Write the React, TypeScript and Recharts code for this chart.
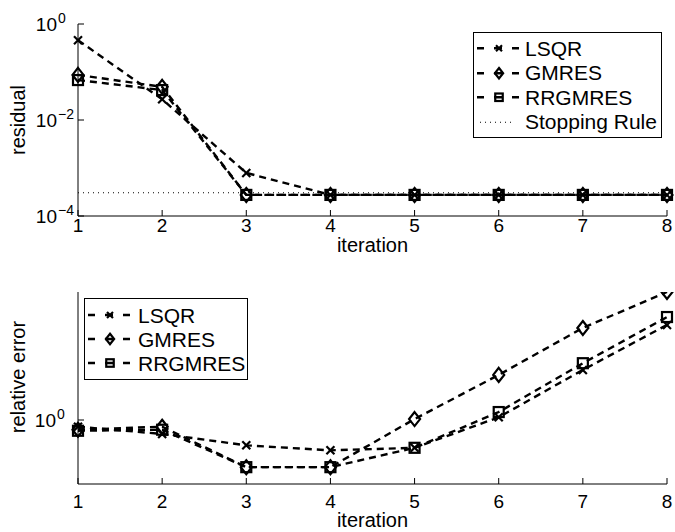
import React from 'react'
import { LineChart, Line, XAxis, YAxis, Legend } from 'recharts'

const iterations = [1, 2, 3, 4, 5, 6, 7, 8]
const iterationTicks = [1, 2, 3, 4, 5, 6, 7, 8]

// residual per iteration
const residualLsqr = [0.46, 0.027, 7.9e-4, 2.75e-4, 2.75e-4, 2.75e-4, 2.75e-4, 2.75e-4]
const residualGmres = [0.087, 0.049, 2.75e-4, 2.75e-4, 2.75e-4, 2.75e-4, 2.75e-4, 2.75e-4]
const residualRrgmres = [0.068, 0.042, 2.75e-4, 2.75e-4, 2.75e-4, 2.75e-4, 2.75e-4, 2.75e-4]
const stoppingRule = [3.05e-4, 3.05e-4, 3.05e-4, 3.05e-4, 3.05e-4, 3.05e-4, 3.05e-4, 3.05e-4]
const residualTicks = [1e-4, 1e-2, 1]

// relative error per iteration
const errorLsqr = [0.93, 0.86, 0.76, 0.72, 0.74, 1.03, 1.72, 2.8]
const errorGmres = [0.9, 0.93, 0.6, 0.6, 1.01, 1.63, 2.71, 4.0]
const errorRrgmres = [0.89, 0.9, 0.6, 0.6, 0.74, 1.09, 1.85, 3.05]
const errorTicks = [1]

const residualData = iterations.map((it, i) => ({
  iteration: it,
  lsqr: residualLsqr[i],
  gmres: residualGmres[i],
  rrgmres: residualRrgmres[i],
  stop: stoppingRule[i],
}))

const errorData = iterations.map((it, i) => ({
  iteration: it,
  lsqr: errorLsqr[i],
  gmres: errorGmres[i],
  rrgmres: errorRrgmres[i],
}))

const FONT = '"Liberation Sans", Arial, Helvetica, sans-serif'
const LINE_W = 2.4

type MarkerKind = 'x' | 'diamond' | 'square'

function Marker({ kind, cx, cy, s = 1 }: { kind: MarkerKind; cx: number; cy: number; s?: number }) {
  if (cx == null || cy == null) return null
  if (kind === 'x') {
    const h = 4 * s
    return (
      <g stroke="#000" strokeWidth={2.2}>
        <line x1={cx - h} y1={cy - h} x2={cx + h} y2={cy + h} />
        <line x1={cx - h} y1={cy + h} x2={cx + h} y2={cy - h} />
      </g>
    )
  }
  if (kind === 'diamond') {
    const w = 5.5 * s
    const h = 7 * s
    return (
      <polygon
        points={`${cx},${cy - h} ${cx + w},${cy} ${cx},${cy + h} ${cx - w},${cy}`}
        fill="none"
        stroke="#000"
        strokeWidth={2.2}
      />
    )
  }
  const h = 5 * s
  return <rect x={cx - h} y={cy - h} width={2 * h} height={2 * h} fill="none" stroke="#000" strokeWidth={2.2} />
}

const dotFor = (kind: MarkerKind) => (p: any) => <Marker key={`${kind}-${p.index}`} kind={kind} cx={p.cx} cy={p.cy} />

function PowerTick(props: any) {
  const { x, y, payload } = props
  const exp = Math.round(Math.log10(payload.value))
  const sup = exp < 0 ? `\u2212${-exp}` : `${exp}`
  return (
    <g>
      <text x={x} y={y + 7} textAnchor="end" fontSize={19} fill="#000">10</text>
      <text x={x + 1} y={y - 1} textAnchor="start" fontSize={14} fill="#000">{sup}</text>
    </g>
  )
}

interface LegendItem {
  name: string
  kind: MarkerKind | 'dotted'
}

function LegendBox({ items, width, rowHeight, padTop, padLeft, sampleWidth }: {
  items: LegendItem[]
  width: number
  rowHeight: number
  padTop: number
  padLeft: number
  sampleWidth: number
}) {
  return (
    <div
      style={{
        boxSizing: 'border-box',
        width,
        border: '1px solid #000',
        background: '#fff',
        paddingTop: padTop,
        paddingBottom: padTop,
        paddingLeft: padLeft,
        fontFamily: FONT,
        fontSize: 21,
        color: '#000',
      }}
    >
      {items.map((item) => (
        <div key={item.name} style={{ display: 'flex', alignItems: 'center', height: rowHeight, whiteSpace: 'nowrap' }}>
          <svg width={sampleWidth} height={rowHeight} style={{ display: 'block', flex: 'none' }}>
            {item.kind === 'dotted' ? (
              <line x1={3} x2={38} y1={rowHeight / 2} y2={rowHeight / 2} stroke="#000" strokeWidth={1} strokeDasharray="1 4" />
            ) : (
              <>
                <line x1={0} x2={42} y1={rowHeight / 2} y2={rowHeight / 2} stroke="#000" strokeWidth={LINE_W} strokeDasharray="7 10 8 10 7" />
                <Marker kind={item.kind} cx={22} cy={rowHeight / 2} s={0.75} />
              </>
            )}
          </svg>
          <span style={{ lineHeight: 1 }}>{item.name}</span>
        </div>
      ))}
    </div>
  )
}

const residualLegend: LegendItem[] = [
  { name: 'LSQR', kind: 'x' },
  { name: 'GMRES', kind: 'diamond' },
  { name: 'RRGMRES', kind: 'square' },
  { name: 'Stopping Rule', kind: 'dotted' },
]

const errorLegend: LegendItem[] = [
  { name: 'LSQR', kind: 'x' },
  { name: 'GMRES', kind: 'diamond' },
  { name: 'RRGMRES', kind: 'square' },
]

const axisLine = { stroke: '#000', strokeWidth: 1 }
const tickLine = { stroke: '#000', strokeWidth: 1 }

export default function App() {
  return (
    <div style={{ position: 'absolute', left: 0, top: 0, width: 675, height: 532, background: '#fff', fontFamily: FONT }}>
      <LineChart width={675} height={262} data={residualData} margin={{ top: 24, right: 8, bottom: 0, left: 0 }}>
        <XAxis
          dataKey="iteration"
          type="number"
          domain={[1, 8]}
          ticks={iterationTicks}
          interval={0}
          height={46}
          tickSize={-6}
          tickMargin={9}
          axisLine={axisLine}
          tickLine={tickLine}
          tick={{ fontSize: 19, fill: '#000' }}
          label={{ value: 'iteration', position: 'insideBottom', offset: 10, fontSize: 20, fill: '#000' }}
        />
        <XAxis
          xAxisId="top"
          orientation="top"
          dataKey="iteration"
          type="number"
          domain={[1, 8]}
          ticks={iterationTicks}
          interval={0}
          height={0}
          tickSize={-6}
          axisLine={axisLine}
          tickLine={tickLine}
          tick={false}
        />
        <YAxis
          scale="log"
          type="number"
          domain={[1e-4, 1]}
          allowDataOverflow
          ticks={residualTicks}
          interval={0}
          width={78}
          tickSize={-6}
          tickMargin={27}
          axisLine={axisLine}
          tickLine={tickLine}
          tick={<PowerTick />}
          label={{ value: 'residual', angle: -90, position: 'insideLeft', offset: 18, fontSize: 20, fill: '#000', style: { textAnchor: 'middle' } }}
        />
        <YAxis
          yAxisId="right"
          orientation="right"
          scale="log"
          type="number"
          domain={[1e-4, 1]}
          allowDataOverflow
          ticks={residualTicks}
          interval={0}
          width={0}
          tickSize={-6}
          axisLine={axisLine}
          tickLine={tickLine}
          tick={false}
        />
        <Legend
          layout="vertical"
          align="center"
          verticalAlign="middle"
          wrapperStyle={{ left: 473, top: 32, width: 189 }}
          content={() => (
            <LegendBox items={residualLegend} width={189} rowHeight={24.5} padTop={3} padLeft={3} sampleWidth={48} />
          )}
        />
        <Line type="linear" dataKey="stop" stroke="#000" strokeWidth={1} strokeDasharray="1 4" dot={false} activeDot={false} isAnimationActive={false} />
        <Line type="linear" dataKey="lsqr" stroke="#000" strokeWidth={LINE_W} strokeDasharray="7 5" dot={dotFor('x')} activeDot={false} isAnimationActive={false} />
        <Line type="linear" dataKey="gmres" stroke="#000" strokeWidth={LINE_W} strokeDasharray="7 5" dot={dotFor('diamond')} activeDot={false} isAnimationActive={false} />
        <Line type="linear" dataKey="rrgmres" stroke="#000" strokeWidth={LINE_W} strokeDasharray="7 5" dot={dotFor('square')} activeDot={false} isAnimationActive={false} />
      </LineChart>

      <LineChart width={675} height={270} data={errorData} margin={{ top: 30, right: 8, bottom: 0, left: 0 }}>
        <XAxis
          dataKey="iteration"
          type="number"
          domain={[1, 8]}
          ticks={iterationTicks}
          interval={0}
          height={48}
          tickSize={-6}
          tickMargin={17}
          axisLine={axisLine}
          tickLine={tickLine}
          tick={{ fontSize: 19, fill: '#000' }}
          label={{ value: 'iteration', position: 'insideBottom', offset: 5, fontSize: 20, fill: '#000' }}
        />
        <XAxis
          xAxisId="top"
          orientation="top"
          dataKey="iteration"
          type="number"
          domain={[1, 8]}
          ticks={iterationTicks}
          interval={0}
          height={0}
          tickSize={-6}
          axisLine={axisLine}
          tickLine={tickLine}
          tick={false}
        />
        <YAxis
          scale="log"
          type="number"
          domain={[0.5, 4]}
          allowDataOverflow
          ticks={errorTicks}
          interval={0}
          width={78}
          tickSize={-6}
          tickMargin={28}
          axisLine={axisLine}
          tickLine={tickLine}
          tick={<PowerTick />}
          label={{ value: 'relative error', angle: -90, position: 'insideLeft', offset: 18, dy: -11, fontSize: 20, fill: '#000', style: { textAnchor: 'middle' } }}
        />
        <YAxis
          yAxisId="right"
          orientation="right"
          scale="log"
          type="number"
          domain={[0.5, 4]}
          allowDataOverflow
          ticks={errorTicks}
          interval={0}
          width={0}
          tickSize={-6}
          axisLine={axisLine}
          tickLine={tickLine}
          tick={false}
        />
        <Legend
          layout="vertical"
          align="center"
          verticalAlign="middle"
          wrapperStyle={{ left: 84, top: 36, width: 164 }}
          content={() => (
            <LegendBox items={errorLegend} width={164} rowHeight={24} padTop={4} padLeft={3} sampleWidth={50} />
          )}
        />
        <Line type="linear" dataKey="lsqr" stroke="#000" strokeWidth={LINE_W} strokeDasharray="7 5" dot={dotFor('x')} activeDot={false} isAnimationActive={false} />
        <Line type="linear" dataKey="gmres" stroke="#000" strokeWidth={LINE_W} strokeDasharray="7 5" dot={dotFor('diamond')} activeDot={false} isAnimationActive={false} />
        <Line type="linear" dataKey="rrgmres" stroke="#000" strokeWidth={LINE_W} strokeDasharray="7 5" dot={dotFor('square')} activeDot={false} isAnimationActive={false} />
      </LineChart>
    </div>
  )
}
